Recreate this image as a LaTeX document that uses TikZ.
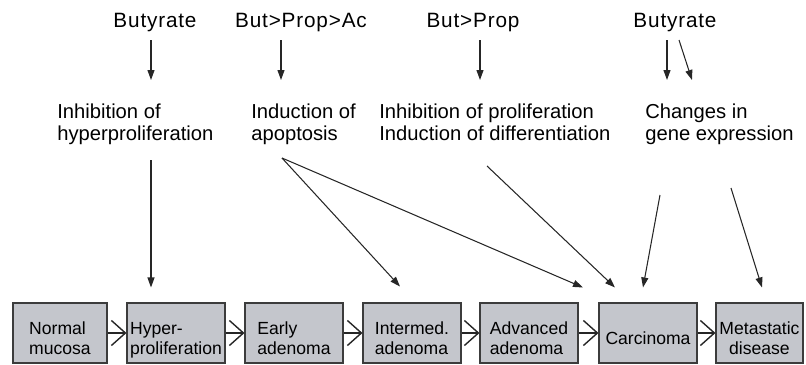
\documentclass[tikz,border=0pt]{standalone}
\usepackage{fontspec}
\setmainfont{Liberation Sans}
\usetikzlibrary{arrows.meta, positioning, calc}

\definecolor{boxgray}{RGB}{196,198,204}
\definecolor{edgegray}{RGB}{60,60,60}

\begin{document}
\begin{tikzpicture}[x=0.02cm, y=-0.02cm,
    agent/.style={inner sep=0pt, font=\fontsize{11.8}{13}\selectfont\addfontfeature{LetterSpace=4}},
    effect/.style={inner sep=0pt, anchor=north west, align=left, font=\fontsize{11.5}{12}\selectfont},
    stage/.style={draw=edgegray, fill=boxgray, line width=0.6pt, minimum width=1.96cm,
        minimum height=1.2cm, align=left, inner sep=1pt, text height=25pt, text depth=0pt,
        font=\fontsize{10}{11.8}\selectfont},
    arr/.style={-{Triangle[length=0.2cm, width=0.14cm]}, line width=0.6pt, draw=black!85},
    chev/.style={-{Straight Barb[length=0.28cm, width=0.5cm]}, line width=0.8pt, draw=black!85}]
    \useasboundingbox (0,0) rectangle (806,365);

    % short-chain fatty acids
    \node[agent, anchor=base] (b1) at (155,28) {Butyrate};
    \node[agent, anchor=base] (b2) at (301,28) {But>Prop>Ac};
    \node[agent, anchor=base] (b3) at (473,28) {But>Prop};
    \node[agent, anchor=base] (b4) at (675,28) {Butyrate};

    % effects
    \node[effect] (m1) at (57,104) {Inhibition of\\hyperproliferation};
    \node[effect] (m2) at (251,104) {Induction of\\apoptosis};
    \node[effect] (m3) at (379,104) {Inhibition of proliferation\\Induction of differentiation};
    \node[effect] (m4) at (645,104) {Changes in\\gene expression};

    % adenoma-carcinoma sequence
    \node[stage, minimum width=1.88cm] (n1) at (60,333) {Normal\\mucosa};
    \foreach \i/\x/\txt in {2/176/{Hyper-\\proliferation}, 3/294/{Early\\adenoma},
        4/412/{Intermed.\\adenoma}, 5/529/{Advanced\\adenoma}} {
        \node[stage] (n\i) at (\x,333) {\txt};
    }
    \node[stage, text height=13pt] (n6) at (648,333) {Carcinoma};
    \node[stage, minimum width=1.74cm, align=center] (n7) at (759.5,333) {Metastatic\\disease};
    \foreach \i/\j in {1/2, 2/3, 3/4, 4/5, 5/6, 6/7} {
        \draw[chev] (n\i.east) -- (n\j.west);
    }

    % acid -> effect
    \draw[arr] ($(b1.base)+(-4,12)$) -- ($(m1.north west)+(94,-24)$);
    \draw[arr] ($(b2.base)+(-20,12)$) -- ($(m2.north west)+(30,-24)$);
    \draw[arr] ($(b3.base)+(7,12)$) -- ($(m3.north west)+(101,-24)$);
    \draw[arr] ($(b4.base)+(-8,12)$) -- ($(m4.north west)+(22,-24)$);
    \draw[arr] ($(b4.base)+(4,12)$) -- ($(m4.north west)+(47,-24)$);

    % effect -> stage
    \draw[arr] ($(m1.north west)+(94,56)$) -- ($(n2.north)+(-25,-15)$);
    \draw[arr] ($(m2.north west)+(31,54)$) -- ($(n4.north)+(-12,-16)$);
    \draw[arr] ($(m2.north west)+(31,54)$) -- ($(n6.north)+(-65,-15)$);
    \draw[arr] ($(m3.north west)+(108,62)$) -- ($(n6.north)+(-33,-15)$);
    \draw[arr] ($(m4.north west)+(15,91)$) -- ($(n6.north)+(-5,-15)$);
    \draw[arr] ($(m4.north west)+(86,84)$) -- ($(n7.north)+(2.5,-15)$);
\end{tikzpicture}
\end{document}
